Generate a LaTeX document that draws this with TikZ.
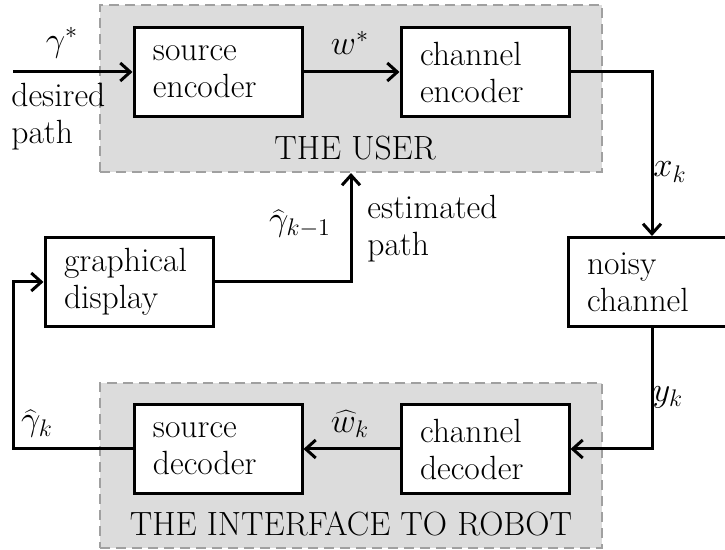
\documentclass[tikz,border=0pt]{standalone}
\usetikzlibrary{arrows.meta}
\newlength{\du}
\setlength{\du}{0.5pt}
\definecolor{groupfill}{rgb}{0.862745, 0.862745, 0.862745}
\definecolor{groupline}{rgb}{0.627451, 0.627451, 0.627451}
\newcommand{\blkfont}{\fontsize{16.8}{18.5}\selectfont}
\tikzset{
  blk/.style={draw, line width=1.5pt, fill=white, minimum width=168\du, minimum height=89\du,
    text width=130\du, align=left, inner sep=0pt, font=\blkfont},
  grp/.style={draw=groupline, fill=groupfill, line width=1pt, dash pattern=on 5pt off 3pt,
    inner sep=0pt},
  wire/.style={line width=1.5pt, -{Straight Barb[length=5pt,width=9pt,line width=1.5pt]}},
  lbl/.style={font=\blkfont, inner sep=0pt}
}
\begin{document}
\begin{tikzpicture}[x=\du, y=-\du]
\useasboundingbox (0,0) rectangle (725,550);
% grey groups
\node[grp, minimum width=502\du, minimum height=167\du] (user) at (351,88.5) {};
\node[grp, minimum width=502\du, minimum height=165\du] (robot) at (351,465.5) {};
\node[lbl] (usertxt) at (355,148) {THE USER};
\node[lbl] (robottxt) at (351,524) {THE INTERFACE TO ROBOT};
% blocks
\node[blk] (srcenc) at (218,72) {source\\encoder};
\node[blk] (chenc) at (485,72) {channel\\encoder};
\node[blk] (noisy) at (652,282) {noisy\\channel};
\node[blk] (chdec) at (485,449) {channel\\decoder};
\node[blk] (srcdec) at (218,449) {source\\decoder};
\node[blk] (disp) at (129,282) {graphical\\display};
\coordinate (in) at (13,72);
\coordinate (fb) at (13,360);
% connectors
\draw[wire] (in) -- (srcenc);
\draw[wire] (srcenc) -- (chenc);
\draw[wire] (chenc.east) -| (noisy.north);
\draw[wire] (noisy.south) |- (chdec.east);
\draw[wire] (chdec) -- (srcdec);
\draw[wire] (srcdec.west) -| (fb) |- (disp.west);
\draw[wire] (disp.east) -| (user.south);
% labels
\node[lbl] (gstar) at (62,43) {$\gamma^*$};
\node[lbl, anchor=north west, align=left] (desired) at (11,83) {desired\\path};
\node[lbl] (wstar) at (350,43) {$w^*$};
\node[lbl] (xk) at (670,172) {$x_k$};
\node[lbl] (ghatk1) at (300,224) {$\widehat{\gamma}_{k-1}$};
\node[lbl, anchor=north west, align=left] (estim) at (367,195) {estimated\\path};
\node[lbl] (yk) at (668,397) {$y_k$};
\node[lbl] (whatk) at (350,424) {$\widehat{w}_k$};
\node[lbl] (ghatk) at (37,424) {$\widehat{\gamma}_k$};
\end{tikzpicture}
\end{document}
